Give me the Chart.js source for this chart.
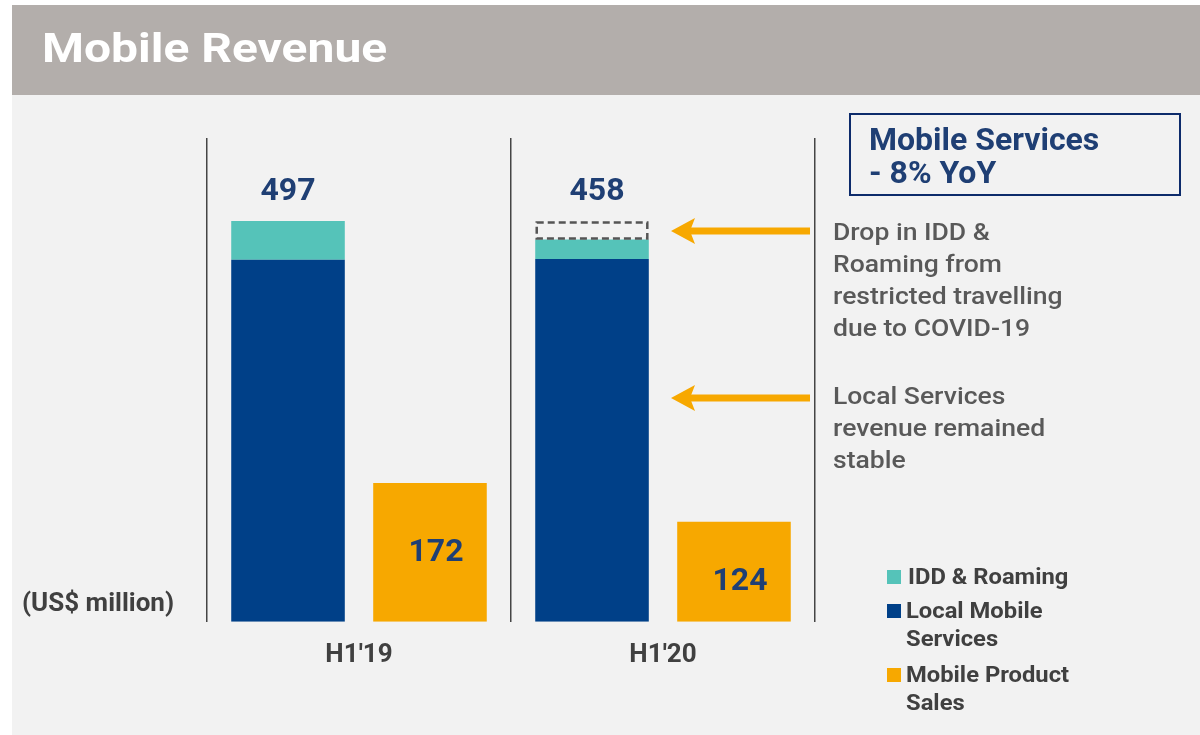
<!DOCTYPE html>
<html>
<head>
<meta charset="utf-8">
<script src="https://cdn.jsdelivr.net/npm/chart.js@4.4.1/dist/chart.umd.min.js"></script>
<style>
  html, body { margin: 0; padding: 0; background: #ffffff; }
  #c { display: block; }
</style>
</head>
<body>
<canvas id="c" width="1200" height="735" style="width:1200px;height:735px"></canvas>
<script>
// ---- data ----
const categories = ["H1'19", "H1'20"];
const localMobileServices = [449, 450];
const iddRoaming = [48, 24];
const iddDrop = [0, 23];            // dashed outline showing the drop
const mobileProductSales = [172, 124];
const serviceTotals = [497, 458];    // labels shown above the service stacks
const yMax = 600;

const title = 'Mobile Revenue';
const unitLabel = '(US$ million)';
const calloutLines = ['Mobile Services', '- 8% YoY'];
const noteDrop = ['Drop in IDD &', 'Roaming from', 'restricted travelling', 'due to COVID-19'];
const noteLocal = ['Local Services', 'revenue remained', 'stable'];
const legendItems = [
  { lines: ['IDD & Roaming'], ds: 1 },
  { lines: ['Local Mobile', 'Services'], ds: 0 },
  { lines: ['Mobile Product', 'Sales'], ds: 3 }
];

const COLORS = {
  teal: '#55c3b9',
  navy: '#004088',
  orange: '#f7a800',
  banner: '#b3aeab',
  bg: '#f2f2f2',
  numText: '#1f3f74',
  darkText: '#404040',
  noteText: '#595959'
};
const FONT = 'Roboto, "Liberation Sans", sans-serif';

function stretchText(ctx, text, x, y, sx) {
  ctx.save();
  ctx.translate(x, y);
  ctx.scale(sx, 1);
  ctx.fillText(text, 0, 0);
  ctx.restore();
}

const decorPlugin = {
  id: 'decor',
  beforeDraw(chart) {
    const ctx = chart.ctx;
    ctx.save();
    ctx.fillStyle = '#ffffff';
    ctx.fillRect(0, 0, chart.width, chart.height);
    ctx.fillStyle = COLORS.bg;
    ctx.fillRect(12, 5, chart.width - 12, chart.height - 5);
    ctx.fillStyle = COLORS.banner;
    ctx.fillRect(12, 5, chart.width - 12, 90);
    ctx.fillStyle = '#ffffff';
    ctx.font = 'bold 41px ' + FONT;
    ctx.textBaseline = 'alphabetic';
    ctx.textAlign = 'left';
    stretchText(ctx, title, 42, 62, 1.17);
    ctx.restore();
  },
  afterDatasetsDraw(chart) {
    const ctx = chart.ctx;
    ctx.save();
    // dashed outline for the drop segment
    const dropMeta = chart.getDatasetMeta(2);
    dropMeta.data.forEach((el, i) => {
      if (!iddDrop[i]) return;
      const w = el.width;
      ctx.setLineDash([7, 4]);
      ctx.strokeStyle = '#555555';
      ctx.lineWidth = 2.5;
      ctx.strokeRect(el.x - w / 2 + 1.5, Math.min(el.y, el.base) + 1.5, w - 3, Math.abs(el.base - el.y) - 2.5);
    });
    ctx.setLineDash([]);

    // totals above stacks
    ctx.fillStyle = COLORS.numText;
    ctx.font = 'bold 32px ' + FONT;
    ctx.textAlign = 'center';
    ctx.textBaseline = 'middle';
    const topMeta = chart.getDatasetMeta(2);
    const totalDx = [0, 5];
    topMeta.data.forEach((el, i) => {
      ctx.fillText(String(serviceTotals[i]), el.x + totalDx[i], el.y - 29);
    });
    // product labels inside bars
    const pMeta = chart.getDatasetMeta(3);
    const pDy = [1, 10];
    pMeta.data.forEach((el, i) => {
      ctx.fillText(String(mobileProductSales[i]), el.x + 6, (el.y + el.base) / 2 + pDy[i]);
    });

    // arrows
    function arrow(xTip, xEnd, y) {
      ctx.fillStyle = COLORS.orange;
      ctx.fillRect(xTip + 18, y - 3.5, xEnd - xTip - 18, 7);
      ctx.beginPath();
      ctx.moveTo(xTip, y);
      ctx.lineTo(xTip + 24, y - 13);
      ctx.lineTo(xTip + 19, y);
      ctx.lineTo(xTip + 24, y + 13);
      ctx.closePath();
      ctx.fill();
    }
    arrow(671, 810, 231);
    arrow(671, 810, 398);

    // notes
    ctx.fillStyle = COLORS.noteText;
    ctx.font = '500 24px ' + FONT;
    ctx.textAlign = 'left';
    ctx.textBaseline = 'alphabetic';
    noteDrop.forEach((t, i) => stretchText(ctx, t, 833, 240 + i * 32, 1.105));
    noteLocal.forEach((t, i) => stretchText(ctx, t, 833, 404 + i * 32, 1.105));

    // callout box
    ctx.strokeStyle = '#0d2b6b';
    ctx.lineWidth = 2;
    ctx.strokeRect(850, 114, 330, 81);
    ctx.fillStyle = COLORS.numText;
    ctx.font = 'bold 32px ' + FONT;
    calloutLines.forEach((t, i) => ctx.fillText(t, 869, 150 + i * 33));

    // unit label
    ctx.fillStyle = COLORS.darkText;
    ctx.font = 'bold 26px ' + FONT;
    ctx.textBaseline = 'middle';
    ctx.fillText(unitLabel, 22, 604);

    // legend
    ctx.font = 'bold 22px ' + FONT;
    const legendY = [577, 611, 675];
    legendItems.forEach((item, k) => {
      ctx.fillStyle = chart.data.datasets[item.ds].backgroundColor;
      ctx.fillRect(887, legendY[k] - 7, 14, 14);
      ctx.fillStyle = COLORS.darkText;
      item.lines.forEach((t, j) => stretchText(ctx, t, k === 0 ? 908 : 906, legendY[k] + 1 + j * 28, 1.08));
    });
    ctx.restore();
  }
};

new Chart(document.getElementById('c'), {
  type: 'bar',
  data: {
    labels: categories,
    datasets: [
      { label: 'Local Mobile Services', data: localMobileServices, backgroundColor: COLORS.navy, stack: 'svc' },
      { label: 'IDD & Roaming', data: iddRoaming, backgroundColor: COLORS.teal, stack: 'svc' },
      { label: 'IDD & Roaming drop', data: iddDrop, backgroundColor: 'rgba(0,0,0,0)', stack: 'svc' },
      { label: 'Mobile Product Sales', data: mobileProductSales, backgroundColor: COLORS.orange, stack: 'prod' }
    ]
  },
  options: {
    responsive: false,
    animation: false,
    devicePixelRatio: 1,
    categoryPercentage: 0.934,
    barPercentage: 0.8,
    layout: { padding: { left: 207, right: 385, top: 138, bottom: 46 } },
    plugins: { legend: { display: false }, tooltip: { enabled: false } },
    scales: {
      x: {
        stacked: true,
        grid: { display: true, offset: true, color: '#454545', lineWidth: 1.5, drawTicks: false },
        border: { display: false },
        ticks: { color: COLORS.darkText, font: { family: FONT, size: 26, weight: 'bold' }, padding: 18 }
      },
      y: {
        stacked: true,
        display: false,
        min: 0,
        max: yMax
      }
    }
  },
  plugins: [decorPlugin]
});
</script>
</body>
</html>
